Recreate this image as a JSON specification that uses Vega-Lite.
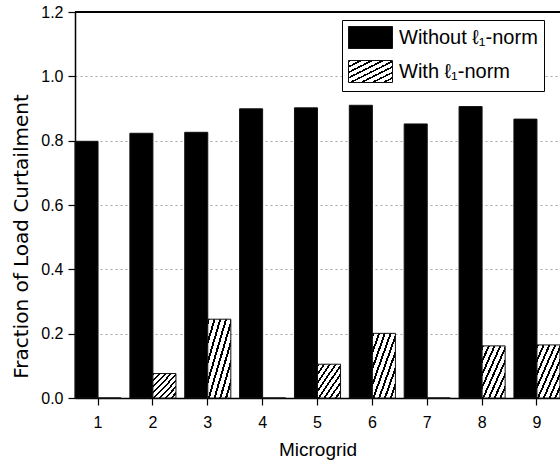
{
  "$schema": "https://vega.github.io/schema/vega-lite/v6.json",
  "width": 485,
  "height": 386,
  "autosize": {"type": "none"},
  "padding": {"left": 75, "top": 12, "right": 0, "bottom": 65},
  "background": "white",
  "config": {"view": {"stroke": null}, "font": "Liberation Sans"},
  "data": {
    "values": [
      {"mg": "1", "series": "Without ℓ₁-norm", "value": 0.798},
      {"mg": "1", "series": "With ℓ₁-norm", "value": 0},
      {"mg": "2", "series": "Without ℓ₁-norm", "value": 0.823},
      {"mg": "2", "series": "With ℓ₁-norm", "value": 0.076},
      {"mg": "3", "series": "Without ℓ₁-norm", "value": 0.826},
      {"mg": "3", "series": "With ℓ₁-norm", "value": 0.245},
      {"mg": "4", "series": "Without ℓ₁-norm", "value": 0.899},
      {"mg": "4", "series": "With ℓ₁-norm", "value": 0},
      {"mg": "5", "series": "Without ℓ₁-norm", "value": 0.902},
      {"mg": "5", "series": "With ℓ₁-norm", "value": 0.105},
      {"mg": "6", "series": "Without ℓ₁-norm", "value": 0.91},
      {"mg": "6", "series": "With ℓ₁-norm", "value": 0.201},
      {"mg": "7", "series": "Without ℓ₁-norm", "value": 0.852},
      {"mg": "7", "series": "With ℓ₁-norm", "value": 0},
      {"mg": "8", "series": "Without ℓ₁-norm", "value": 0.906},
      {"mg": "8", "series": "With ℓ₁-norm", "value": 0.162},
      {"mg": "9", "series": "Without ℓ₁-norm", "value": 0.867},
      {"mg": "9", "series": "With ℓ₁-norm", "value": 0.165}
    ]
  },
  "layer": [
    {
      "mark": {"type": "bar", "stroke": "#111", "strokeWidth": 1},
      "encoding": {
        "x": {
          "field": "mg",
          "type": "ordinal",
          "scale": {"paddingInner": 0.16, "paddingOuter": 0},
          "axis": {
            "title": "Microgrid",
            "titleFontSize": 19,
            "titleFontWeight": "normal",
            "titleColor": "black",
            "titlePadding": 10,
            "labelAngle": 0,
            "labelFontSize": 16,
            "labelColor": "black",
            "labelPadding": 9,
            "tickSize": 7,
            "tickColor": "black",
            "tickWidth": 1.2,
            "domainColor": "black",
            "domainWidth": 1.5,
            "grid": false
          }
        },
        "xOffset": {
          "field": "series",
          "sort": ["Without ℓ₁-norm", "With ℓ₁-norm"],
          "scale": {"paddingInner": 0}
        },
        "y": {
          "field": "value",
          "type": "quantitative",
          "scale": {"domain": [0, 1.2], "nice": false},
          "axis": {
            "values": [0, 0.1, 0.2, 0.3, 0.4, 0.5, 0.6, 0.7, 0.8, 0.9, 1.0, 1.1, 1.2],
            "labelExpr": "round(datum.value*10)%2==0 ? format(datum.value,'.1f') : ''",
            "title": "Fraction of Load Curtailment",
            "titleFont": "DejaVu Sans",
            "titleFontSize": 20,
            "titleFontWeight": "normal",
            "titleColor": "black",
            "titlePadding": 9,
            "titleY": 224,
            "labelFontSize": 16,
            "labelColor": "black",
            "labelPadding": 5,
            "tickSize": 7,
            "tickColor": "black",
            "tickWidth": 1.2,
            "domainColor": "black",
            "domainWidth": 1.5,
            "grid": true,
            "gridDash": [2, 3],
            "gridColor": "#a5a5a5",
            "gridWidth": 1
          }
        },
        "fill": {
          "field": "series",
          "type": "nominal",
          "condition": {
            "test": "datum.series === 'With ℓ₁-norm'",
            "value": {
              "gradient": "linear",
              "x1": 0, "y1": 0, "x2": 1, "y2": 1,
              "stops": [
                {"offset": 0, "color": "#000000"},
                {"offset": 0.04375, "color": "#000000"},
                {"offset": 0.04375, "color": "#ffffff"},
                {"offset": 0.125, "color": "#ffffff"},
                {"offset": 0.125, "color": "#000000"},
                {"offset": 0.16875, "color": "#000000"},
                {"offset": 0.16875, "color": "#ffffff"},
                {"offset": 0.25, "color": "#ffffff"},
                {"offset": 0.25, "color": "#000000"},
                {"offset": 0.29375, "color": "#000000"},
                {"offset": 0.29375, "color": "#ffffff"},
                {"offset": 0.375, "color": "#ffffff"},
                {"offset": 0.375, "color": "#000000"},
                {"offset": 0.41875, "color": "#000000"},
                {"offset": 0.41875, "color": "#ffffff"},
                {"offset": 0.5, "color": "#ffffff"},
                {"offset": 0.5, "color": "#000000"},
                {"offset": 0.54375, "color": "#000000"},
                {"offset": 0.54375, "color": "#ffffff"},
                {"offset": 0.625, "color": "#ffffff"},
                {"offset": 0.625, "color": "#000000"},
                {"offset": 0.66875, "color": "#000000"},
                {"offset": 0.66875, "color": "#ffffff"},
                {"offset": 0.75, "color": "#ffffff"},
                {"offset": 0.75, "color": "#000000"},
                {"offset": 0.79375, "color": "#000000"},
                {"offset": 0.79375, "color": "#ffffff"},
                {"offset": 0.875, "color": "#ffffff"},
                {"offset": 0.875, "color": "#000000"},
                {"offset": 0.91875, "color": "#000000"},
                {"offset": 0.91875, "color": "#ffffff"},
                {"offset": 1, "color": "#ffffff"}
              ]
            }
          },
          "scale": {
            "domain": ["Without ℓ₁-norm", "With ℓ₁-norm"],
            "range": ["#000000", "url(#gradient_0)"]
          },
          "legend": {
            "orient": "none",
            "legendX": 267,
            "legendY": 8,
            "title": null,
            "strokeColor": "black",
            "fillColor": "white",
            "padding": 6,
            "symbolType": "M-1,-1L3,-1L3,1L-1,1Z",
            "symbolSize": 484,
            "symbolStrokeColor": "#111",
            "symbolStrokeWidth": 1,
            "symbolOpacity": 1,
            "labelFontSize": 20,
            "labelColor": "black",
            "labelOffset": 28,
            "labelLimit": 300,
            "rowPadding": 7
          }
        }
      }
    },
    {
      "mark": {"type": "rule", "color": "black", "strokeWidth": 1.5},
      "encoding": {"y": {"datum": 1.2}}
    }
  ]
}
